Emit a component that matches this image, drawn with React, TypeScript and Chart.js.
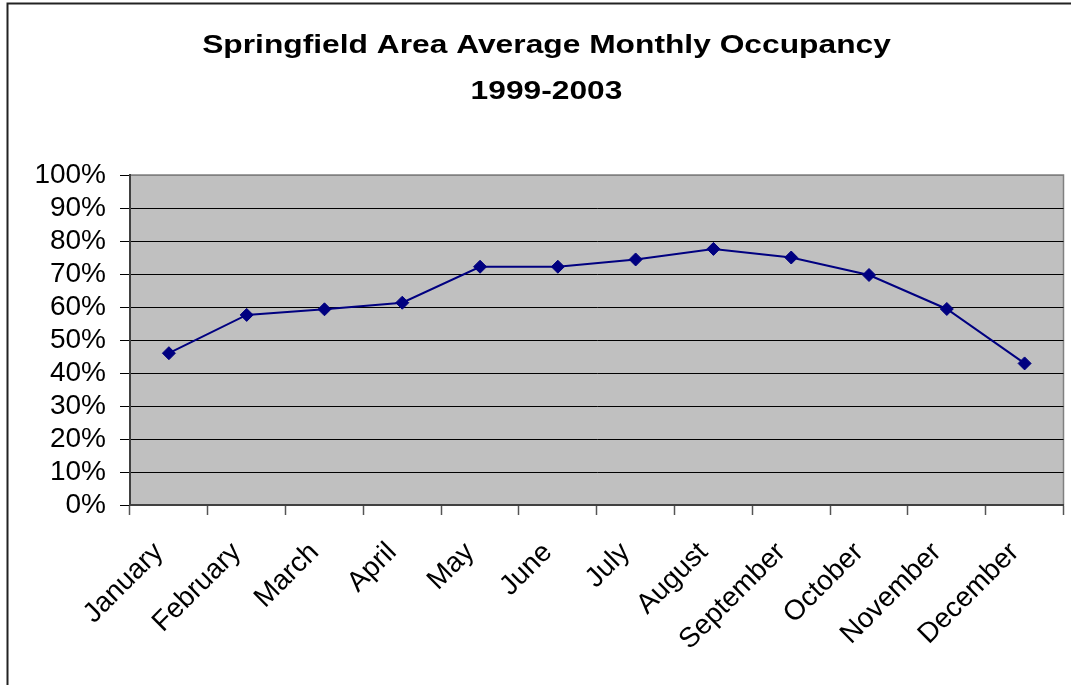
import React, { useEffect, useRef } from "react";
import { Chart, registerables } from "chart.js";

Chart.register(...registerables);

const months = [
  "January", "February", "March", "April", "May", "June",
  "July", "August", "September", "October", "November", "December",
];
const occupancy = [46.0, 57.6, 59.3, 61.3, 72.2, 72.2, 74.4, 77.6, 75.0, 69.7, 59.4, 42.9];
const titleLines = ["Springfield Area Average Monthly Occupancy", "1999-2003"];

const FONT = "'Liberation Sans', Arial, sans-serif";

const framePlugin = {
  id: "frame",
  beforeDraw(chart: any) {
    const { ctx, chartArea } = chart;
    ctx.save();
    ctx.fillStyle = "#ffffff";
    ctx.fillRect(0, 0, chart.width, chart.height);
    ctx.fillStyle = "#C0C0C0";
    ctx.fillRect(chartArea.left, chartArea.top, chartArea.right - chartArea.left, chartArea.bottom - chartArea.top);
    ctx.strokeStyle = "#808080";
    ctx.lineWidth = 1.5;
    ctx.strokeRect(chartArea.left, chartArea.top, chartArea.right - chartArea.left, chartArea.bottom - chartArea.top);
    // outer chart frame
    ctx.strokeStyle = "#222222";
    ctx.lineWidth = 2;
    ctx.beginPath();
    ctx.moveTo(7.5, chart.height);
    ctx.lineTo(7.5, 3.5);
    ctx.lineTo(chart.width, 3.5);
    ctx.stroke();
    // title
    ctx.fillStyle = "#000000";
    ctx.font = `bold 25px ${FONT}`;
    ctx.textAlign = "center";
    ctx.textBaseline = "alphabetic";
    const sx = 1.27;
    ctx.scale(sx, 1);
    ctx.fillText(titleLines[0], 546.5 / sx, 53);
    ctx.fillText(titleLines[1], 546.5 / sx, 99);
    ctx.restore();
  },
  afterDraw(chart: any) {
    const { ctx } = chart;
    const xs = chart.scales.x;
    ctx.save();
    ctx.fillStyle = "#000000";
    ctx.font = `28px ${FONT}`;
    ctx.textAlign = "right";
    ctx.textBaseline = "middle";
    months.forEach((m, i) => {
      const x = xs.getPixelForTick(i);
      ctx.save();
      ctx.translate(x - 10, xs.top + 43);
      ctx.rotate(-Math.PI / 4);
      ctx.fillText(m, 0, 0);
      ctx.restore();
    });
    ctx.restore();
  },
};

export default function App() {
  const ref = useRef<HTMLCanvasElement | null>(null);
  useEffect(() => {
    if (!ref.current) return;
    const chart = new Chart(ref.current, {
      type: "line",
      data: {
        labels: months,
        datasets: [
          {
            data: occupancy,
            borderColor: "#000080",
            backgroundColor: "#000080",
            borderWidth: 2,
            pointStyle: "rectRot",
            pointRadius: 6.5,
            pointBorderWidth: 1,
            pointBackgroundColor: "#000080",
            pointBorderColor: "#000080",
            tension: 0,
          },
        ],
      },
      options: {
        responsive: false,
        animation: false,
        layout: { padding: { left: 0, right: 7, top: 175, bottom: 0 } },
        plugins: {
          legend: { display: false },
          title: { display: false },
          tooltip: { enabled: false },
        },
        scales: {
          x: {
            offset: true,
            afterFit(scale: any) {
              scale.height = 180;
            },
            grid: {
              offset: true,
              drawOnChartArea: false,
              drawTicks: true,
              tickLength: 10,
              tickColor: "#555555",
              tickWidth: 1.5,
            },
            border: { display: true, color: "#404040", width: 2 },
            ticks: {
              display: false,
              autoSkip: false,
            },
          },
          y: {
            min: 0,
            max: 100,
            afterFit(scale: any) {
              scale.width = 130;
            },
            grid: {
              color: (c: any) => (c.tick && c.tick.value === 100 ? "#808080" : "#000000"),
              lineWidth: 1,
              tickLength: 10,
              tickColor: "#000000",
            },
            border: { display: true, color: "#404040", width: 2 },
            ticks: {
              stepSize: 10,
              autoSkip: false,
              color: "#000000",
              font: { family: FONT, size: 28 },
              padding: 14,
              callback: (v: any) => `${v}%`,
            },
          },
        },
      },
      plugins: [framePlugin],
    });
    return () => chart.destroy();
  }, []);
  return (
    <canvas
      ref={ref}
      width={1071}
      height={685}
      style={{ position: "fixed", left: 0, top: 0, display: "block" }}
    />
  );
}
